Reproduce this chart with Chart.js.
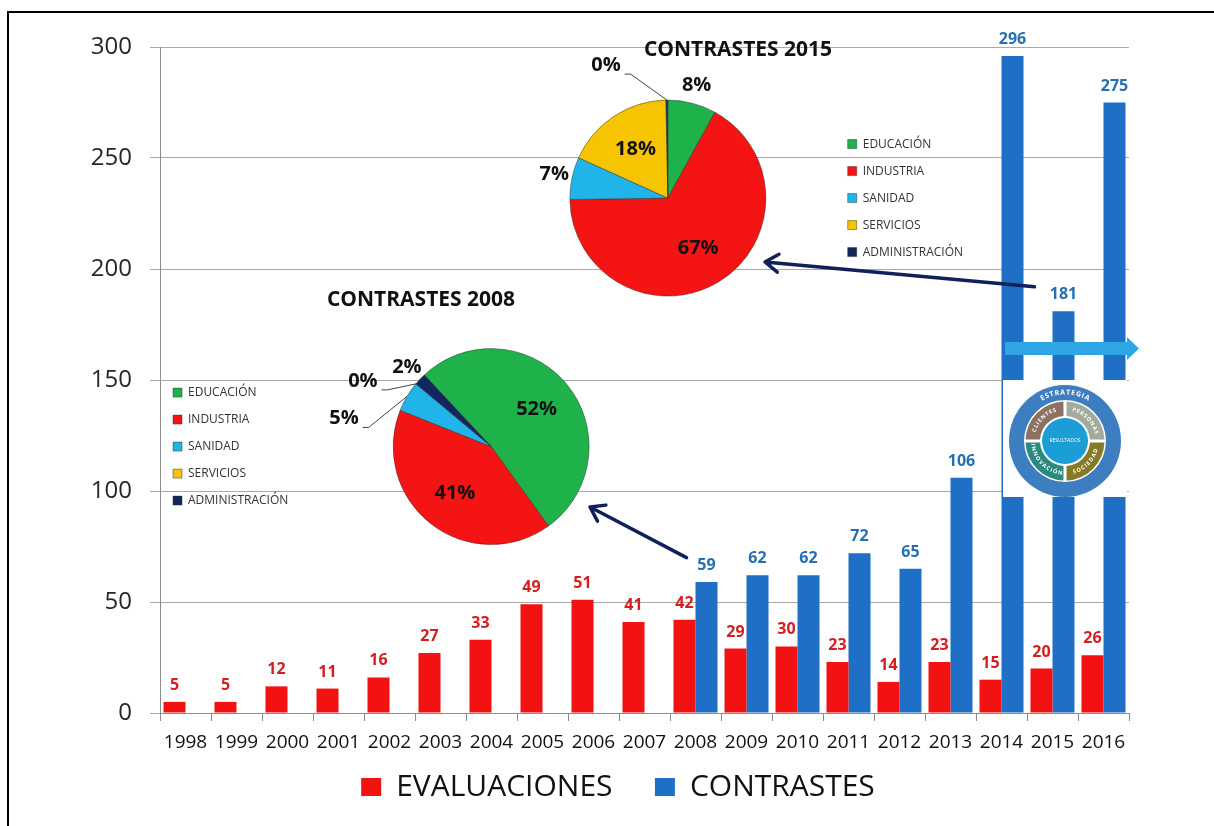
<!DOCTYPE html>
<html>
<head>
<meta charset="utf-8">
<script src="https://cdn.jsdelivr.net/npm/chart.js@4"></script>
<style>
  html, body { margin: 0; padding: 0; background: #fff; }
  #wrap { position: relative; width: 1214px; height: 826px; overflow: hidden; }
  #frame { position: absolute; left: 7px; top: 11px; width: 1300px; height: 900px; border-top: 2px solid #000; border-left: 2px solid #000; }
  canvas { position: absolute; }
</style>
</head>
<body>
<div id="wrap">
  <div id="frame"></div>
  <canvas id="main" width="1214" height="826" style="left:0;top:0"></canvas>
  <canvas id="pie2008" width="526" height="291" style="left:158px;top:280px"></canvas>
  <canvas id="pie2015" width="470" height="294" style="left:503px;top:30px"></canvas>
</div>
<script>
var years = ['1998', '1999', '2000', '2001', '2002', '2003', '2004', '2005', '2006', '2007',
             '2008', '2009', '2010', '2011', '2012', '2013', '2014', '2015', '2016'];
var evaluaciones = [5, 5, 12, 11, 16, 27, 33, 49, 51, 41, 42, 29, 30, 23, 14, 23, 15, 20, 26];
var contrastes = [null, null, null, null, null, null, null, null, null, null,
                  59, 62, 62, 72, 65, 106, 296, 181, 275];

var sectores = ['EDUCACIÓN', 'INDUSTRIA', 'SANIDAD', 'SERVICIOS', 'ADMINISTRACIÓN'];
var contrastes2008 = [52, 41, 5, 0, 2];
var contrastes2015 = [8, 67, 7, 18, 0.3];

var FONT = "'Open Sans', sans-serif";
var RED = '#f21212';
var BLUE = '#1f6fc6';
var SECTOR_COLORS = ['#1fb24a', '#f51414', '#20b4e8', '#f6c400', '#13275f'];

// value labels above the bars
var barLabels = {
    id: 'barLabels',
    afterDatasetsDraw: function(chart) {
        var ctx = chart.ctx;
        ctx.save();
        ctx.font = 'bold 16px ' + FONT;
        ctx.textAlign = 'center';
        ctx.textBaseline = 'alphabetic';
        chart.data.datasets.forEach(function(ds, di) {
            var meta = chart.getDatasetMeta(di);
            ctx.fillStyle = ds.labelColor;
            meta.data.forEach(function(bar, i) {
                if (ds.data[i] == null) return;
                ctx.fillText(ds.data[i], bar.x, bar.y - 12);
            });
        });
        ctx.restore();
    }
};

function drawArrow(ctx, x0, y0, x1, y1) {
    var a = Math.atan2(y1 - y0, x1 - x0);
    ctx.save();
    ctx.strokeStyle = '#10205a';
    ctx.lineWidth = 3.5;
    ctx.lineCap = 'round';
    ctx.lineJoin = 'round';
    ctx.beginPath();
    ctx.moveTo(x0, y0);
    ctx.lineTo(x1, y1);
    ctx.moveTo(x1 - 16 * Math.cos(a - 0.6), y1 - 16 * Math.sin(a - 0.6));
    ctx.lineTo(x1, y1);
    ctx.lineTo(x1 - 16 * Math.cos(a + 0.6), y1 - 16 * Math.sin(a + 0.6));
    ctx.stroke();
    ctx.restore();
}

function arcText(ctx, text, cx, cy, r, mid, top) {
    var chars = text.split('');
    var widths = chars.map(function(c) { return ctx.measureText(c).width + 1; });
    var total = widths.reduce(function(a, b) { return a + b; }, 0);
    var dir = top ? 1 : -1;
    var a = mid - dir * total / 2 / r;
    chars.forEach(function(c, i) {
        var step = widths[i] / r;
        var ca = a + dir * step / 2;
        ctx.save();
        ctx.translate(cx + Math.cos(ca) * r, cy + Math.sin(ca) * r);
        ctx.rotate(ca + (top ? Math.PI / 2 : -Math.PI / 2));
        ctx.fillText(c, 0, 0);
        ctx.restore();
        a += dir * step;
    });
}

function drawLogo(ctx, cx, cy) {
    ctx.save();
    ctx.fillStyle = '#fff';
    ctx.fillRect(1003, 380, 124, 117);
    ctx.fillStyle = '#3d7ec1';
    ctx.beginPath(); ctx.arc(cx, cy, 56, 0, Math.PI * 2); ctx.fill();
    ctx.fillStyle = '#fff';
    ctx.beginPath(); ctx.arc(cx, cy, 41, 0, Math.PI * 2); ctx.fill();
    var segs = [
        {a0: Math.PI, a1: 1.5 * Math.PI, color: '#8b7262', text: 'CLIENTES', top: true},
        {a0: 1.5 * Math.PI, a1: 2 * Math.PI, color: '#a2aa9c', text: 'PERSONAS', top: true},
        {a0: 0, a1: 0.5 * Math.PI, color: '#877a26', text: 'SOCIEDAD', top: false},
        {a0: 0.5 * Math.PI, a1: Math.PI, color: '#2a8a80', text: 'INNOVACIÓN', top: false}
    ];
    segs.forEach(function(s) {
        ctx.fillStyle = s.color;
        ctx.beginPath();
        ctx.arc(cx, cy, 39.5, s.a0 + 0.04, s.a1 - 0.04);
        ctx.arc(cx, cy, 25, s.a1 - 0.06, s.a0 + 0.06, true);
        ctx.closePath();
        ctx.fill();
    });
    ctx.fillStyle = '#1b9dd5';
    ctx.beginPath(); ctx.arc(cx, cy, 23, 0, Math.PI * 2); ctx.fill();
    ctx.fillStyle = '#fff';
    ctx.textAlign = 'center';
    ctx.textBaseline = 'middle';
    ctx.font = '5px ' + FONT;
    ctx.fillText('RESULTADOS', cx, cy);
    ctx.font = 'bold 7px ' + FONT;
    arcText(ctx, 'ESTRATEGIA', cx, cy, 48.5, -Math.PI / 2, true);
    ctx.font = 'bold 5.5px ' + FONT;
    segs.forEach(function(s) {
        arcText(ctx, s.text, cx, cy, 32.3, (s.a0 + s.a1) / 2, s.top);
    });
    ctx.restore();
}

var decorations = {
    id: 'decorations',
    afterDatasetsDraw: function(chart) {
        var ctx = chart.ctx;
        var x = chart.scales.x, y = chart.scales.y;
        drawArrow(ctx, x.getPixelForValue(17) - 18, y.getPixelForValue(192), 765, 262);
        drawArrow(ctx, x.getPixelForValue(10) - 9, y.getPixelForValue(70), 590, 507);

        // light blue arrow across the last bars
        ctx.save();
        ctx.fillStyle = '#2ea6e6';
        ctx.fillRect(1005, 342, 123, 13);
        ctx.beginPath();
        ctx.moveTo(1127, 337);
        ctx.lineTo(1139, 348.5);
        ctx.lineTo(1127, 360);
        ctx.closePath();
        ctx.fill();
        ctx.restore();

        drawLogo(ctx, 1065, 441);
    }
};

new Chart(document.getElementById('main'), {
    type: 'bar',
    data: {
        labels: years,
        datasets: [
            {label: 'EVALUACIONES', data: evaluaciones, backgroundColor: RED, borderWidth: 0, labelColor: '#d81d22'},
            {label: 'CONTRASTES', data: contrastes, backgroundColor: BLUE, borderWidth: 0, labelColor: '#2470b5'}
        ]
    },
    options: {
        responsive: false,
        animation: false,
        events: [],
        datasets: {bar: {categoryPercentage: 0.863, barPercentage: 1}},
        layout: {padding: {left: 27, right: 5, top: 47, bottom: 14}},
        scales: {
            x: {
                grid: {drawOnChartArea: false, tickLength: 8, color: '#8c8c8c'},
                border: {color: '#8c8c8c'},
                ticks: {font: {family: FONT, size: 19}, color: '#111', padding: 10, maxRotation: 0, autoSkip: false},
                afterFit: function(s) { s.height = 40; }
            },
            y: {
                min: 0,
                max: 300,
                ticks: {stepSize: 50, font: {family: FONT, size: 24}, color: '#262626', padding: 18},
                grid: {color: '#a8a8a8', tickLength: 10},
                border: {color: '#8c8c8c'},
                afterFit: function(s) { s.width = 133; }
            },
            // empty margin on the right so the legend sits where the original has it
            yMargin: {
                axis: 'y',
                position: 'right',
                grid: {display: false},
                border: {display: false},
                ticks: {display: false},
                afterFit: function(s) { s.width = 80; }
            }
        },
        plugins: {
            legend: {
                position: 'bottom',
                labels: {
                    font: {family: FONT, size: 30},
                    color: '#111',
                    boxWidth: 20,
                    boxHeight: 18,
                    padding: 19,
                    generateLabels: function(chart) {
                        var items = Chart.defaults.plugins.legend.labels.generateLabels(chart);
                        items[0].text += '   ';
                        return items;
                    }
                }
            },
            tooltip: {enabled: false}
        }
    },
    plugins: [decorations, barLabels]
});

// percentage labels on the pies
var pieLabels = {
    id: 'pieLabels',
    afterDatasetsDraw: function(chart, args, opts) {
        var ctx = chart.ctx;
        var values = chart.data.datasets[0].data;
        var total = values.reduce(function(a, b) { return a + b; }, 0);
        ctx.save();
        ctx.font = 'bold 20px ' + FONT;
        ctx.fillStyle = '#111';
        ctx.textAlign = 'center';
        ctx.textBaseline = 'middle';
        ctx.strokeStyle = '#444';
        ctx.lineWidth = 1;
        chart.getDatasetMeta(0).data.forEach(function(arc, i) {
            var mid = (arc.startAngle + arc.endAngle) / 2;
            var r = arc.outerRadius;
            var text = Math.round(values[i] / total * 100) + '%';
            var place = opts.place[i];
            var tx, ty;
            if (place === 'in') {
                tx = arc.x + Math.cos(mid) * r * 0.6;
                ty = arc.y + Math.sin(mid) * r * 0.6;
            } else if (place === 'out') {
                tx = arc.x + Math.cos(mid) * (r + 18);
                ty = arc.y + Math.sin(mid) * (r + 18);
            } else {
                var ex = arc.x + Math.cos(mid) * r;
                var ey = arc.y + Math.sin(mid) * r;
                tx = ex + place[0];
                ty = ey + place[1];
                var w = ctx.measureText(text).width;
                ctx.beginPath();
                ctx.moveTo(ex, ey);
                ctx.lineTo(tx + w / 2 + 10, ty + 9);
                ctx.lineTo(tx + w / 2 + 4, ty + 9);
                ctx.stroke();
            }
            ctx.fillText(text, tx, ty);
        });
        ctx.restore();
    }
};

function pieChart(id, title, values, rotation, legendPos, place) {
    return new Chart(document.getElementById(id), {
        type: 'pie',
        data: {
            labels: sectores,
            datasets: [{
                data: values,
                backgroundColor: SECTOR_COLORS,
                borderColor: 'rgba(40,40,40,0.45)',
                borderWidth: 1
            }]
        },
        options: {
            responsive: false,
            animation: false,
            events: [],
            rotation: rotation,
            radius: 98,
            plugins: {
                title: {
                    display: true,
                    text: title,
                    font: {family: FONT, size: 21, weight: 'bold'},
                    color: '#111',
                    padding: {top: 7, bottom: 10}
                },
                legend: {
                    position: legendPos,
                    fullSize: false,
                    labels: {font: {family: FONT, size: 12}, color: '#333', boxWidth: 9, boxHeight: 9, padding: 15}
                },
                tooltip: {enabled: false},
                pieLabels: {place: place}
            }
        },
        plugins: [pieLabels]
    });
}

pieChart('pie2008', 'CONTRASTES 2008', contrastes2008, -43, 'left',
    ['in', 'in', [-63, 22], [-53, -3], 'out']);
pieChart('pie2015', 'CONTRASTES 2015', contrastes2015, 0, 'right',
    ['out', 'in', 'out', 'in', [-61, -35]]);
</script>
</body>
</html>
